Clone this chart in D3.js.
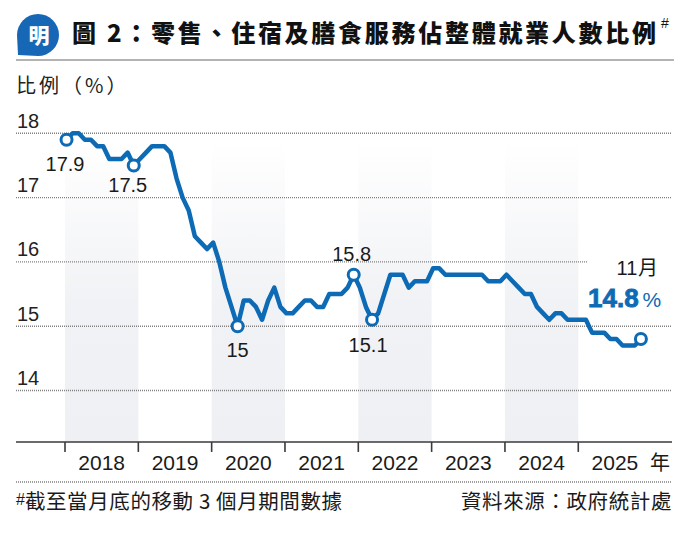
<!DOCTYPE html>
<html>
<head>
<meta charset="utf-8">
<script src="https://cdn.jsdelivr.net/npm/d3@7"></script>
<style>
	body { margin: 0; background: #fff; }
	svg { display: block; }
</style>
</head>
<body>
<div id="chart"></div>
<script>
/* global d3 */

// ---- data ----
var years = ["2018", "2019", "2020", "2021", "2022", "2023", "2024", "2025"];

// monthly share (%), Jan 2018 - Nov 2025
var shareValues = [
	17.9, 18.0, 18.0, 17.9, 17.9, 17.8, 17.8, 17.6, 17.6, 17.6, 17.7, 17.5,
	17.6, 17.7, 17.8, 17.8, 17.8, 17.7, 17.3, 17.0, 16.8, 16.4, 16.3, 16.2,
	16.3, 16.0, 15.6, 15.3, 15.0, 15.4, 15.4, 15.3, 15.1, 15.4, 15.6, 15.3,
	15.2, 15.2, 15.3, 15.4, 15.4, 15.3, 15.3, 15.5, 15.5, 15.5, 15.6, 15.8,
	15.6, 15.3, 15.1, 15.2, 15.5, 15.8, 15.8, 15.8, 15.6, 15.7, 15.7, 15.7,
	15.9, 15.9, 15.8, 15.8, 15.8, 15.8, 15.8, 15.8, 15.8, 15.7, 15.7, 15.7,
	15.8, 15.7, 15.6, 15.5, 15.5, 15.3, 15.2, 15.1, 15.2, 15.2, 15.1, 15.1,
	15.1, 15.1, 14.9, 14.9, 14.9, 14.8, 14.8, 14.7, 14.7, 14.7, 14.8
];

var yTicks = [14, 15, 16, 17, 18];

// months that carry a circle marker
var markedMonths = [0, 11, 28, 47, 50, 94];
var markedLabels = ["17.9", "17.5", "15", "15.8", "15.1", ""];

var title = "圖 2：零售、住宿及膳食服務佔整體就業人數比例";
var footNote = "截至當月底的移動 3 個月期間數據";
var source = "資料來源：政府統計處";


// ---- setup ----
var W = 690, H = 533;
var BLUE = "#0d6ab4";
var CJK = "'Noto Sans CJK TC', 'Noto Sans CJK SC', sans-serif";
var LATIN = "'Liberation Sans', Arial, sans-serif";

var svg = d3.select("#chart")
  .append("svg")
	.attr("width", W)
	.attr("height", H);

var x = d3.scaleLinear().domain([0, 96]).range([65, 651.6]);
var y = d3.scaleLinear().domain([14, 18]).range([390.5, 133.3]);
var baseY = y(13.2);

// point of month i sits a quarter month into it
var px = function( i ){ return x(i + 0.25); };


//* BAND GRADIENT
var grad = svg.append("defs").append("linearGradient")
	.attr("id", "bandFade")
	.attr("x1", 0).attr("y1", 0).attr("x2", 0).attr("y2", 1);
grad.append("stop").attr("offset", "0%").attr("stop-color", "#fff");
grad.append("stop").attr("offset", "55%").attr("stop-color", "#f1f2f5");
grad.append("stop").attr("offset", "100%").attr("stop-color", "#eef0f3");

//* YEAR BANDS (every other year)
svg.selectAll("rect.band")
	.data(years.filter(function( d, i ){ return i % 2 === 0; }))
  .enter().append("rect")
	.attr("class", "band")
	.attr("x", function( d ){ return x(years.indexOf(d) * 12); })
	.attr("y", 140)
	.attr("width", x(12) - x(0))
	.attr("height", baseY - 140)
	.attr("fill", "url(#bandFade)");


//* TITLE
var logo = svg.append("g").attr("transform", "translate(38,35)");
logo.append("path")
	.attr("d", "M -21 0 A 21 21 0 1 1 0 21 L -20 20 Z")
	.attr("fill", "#1667b5");
logo.append("text")
	.attr("x", 1)
	.attr("y", 8)
	.attr("font-family", CJK)
	.attr("font-size", 21)
	.attr("font-weight", 900)
	.style("text-anchor", "middle")
	.style("fill", "#fff")
	.text("明");

svg.append("text")
	.attr("x", 72)
	.attr("y", 42)
	.attr("font-family", CJK)
	.attr("font-size", 24)
	.attr("font-weight", 900)
	.attr("textLength", 584)
	.attr("lengthAdjust", "spacing")
	.style("fill", "#111")
	.text(title);

svg.append("text")
	.attr("x", 661)
	.attr("y", 28)
	.attr("font-family", LATIN)
	.attr("font-size", 14)
	.style("fill", "#111")
	.text("#");

svg.append("line")
	.attr("x1", 16).attr("x2", 674)
	.attr("y1", 60).attr("y2", 60)
	.attr("stroke", "#9a9a9a")
	.attr("stroke-width", 1.5);

svg.append("text")
	.attr("x", 16)
	.attr("y", 93)
	.attr("font-family", CJK)
	.attr("font-size", 20)
	.attr("letter-spacing", 3)
	.style("fill", "#222")
	.text("比例（%）");


//* GRID + Y LABELS
svg.selectAll("line.grid")
	.data(yTicks)
  .enter().append("line")
	.attr("class", "grid")
	.attr("x1", 16)
	// 16 line stops short to leave room for the latest value
	.attr("x2", function( d ){ return d === 16 ? 588 : 672; })
	.attr("y1", function( d ){ return y(d); })
	.attr("y2", function( d ){ return y(d); })
	.attr("stroke", "#808080")
	.attr("stroke-width", 1.4)
	.attr("stroke-dasharray", "1,1");

svg.selectAll("text.ytick")
	.data(yTicks)
  .enter().append("text")
	.attr("class", "ytick")
	.attr("x", 17)
	.attr("y", function( d ){ return y(d) - 5.5; })
	.attr("font-family", LATIN)
	.attr("font-size", 20)
	.style("fill", "#222")
	.text(function( d ){ return d; });


//* X AXIS
svg.append("line")
	.attr("x1", 16).attr("x2", 672)
	.attr("y1", baseY).attr("y2", baseY)
	.attr("stroke", "#3a3a3a")
	.attr("stroke-width", 1.6);

svg.selectAll("line.xtick")
	.data(years)
  .enter().append("line")
	.attr("class", "xtick")
	.attr("x1", function( d, i ){ return x(i * 12); })
	.attr("x2", function( d, i ){ return x(i * 12); })
	.attr("y1", baseY)
	.attr("y2", baseY + 10)
	.attr("stroke", "#3a3a3a")
	.attr("stroke-width", 1.6);

svg.selectAll("text.year")
	.data(years)
  .enter().append("text")
	.attr("class", "year")
	.attr("x", function( d, i ){ return x(i * 12 + 6); })
	.attr("y", 470)
	.attr("font-family", LATIN)
	.attr("font-size", 21)
	.style("text-anchor", "middle")
	.style("fill", "#1a1a1a")
	.text(function( d ){ return d; });

svg.append("text")
	.attr("x", 660)
	.attr("y", 470)
	.attr("font-family", CJK)
	.attr("font-size", 20)
	.style("text-anchor", "middle")
	.style("fill", "#1a1a1a")
	.text("年");


//* LINE
var line = d3.line()
	.x(function( d, i ){ return px(i); })
	.y(function( d ){ return y(d); });

svg.append("path")
	.datum(shareValues)
	.attr("d", line)
	.attr("fill", "none")
	.attr("stroke", BLUE)
	.attr("stroke-width", 4.5)
	.attr("stroke-linejoin", "round")
	.attr("stroke-linecap", "round");

svg.selectAll("circle.mark")
	.data(markedMonths)
  .enter().append("circle")
	.attr("class", "mark")
	.attr("cx", function( d ){ return px(d); })
	.attr("cy", function( d ){ return y(shareValues[d]); })
	.attr("r", 5.5)
	.attr("fill", "#fff")
	.attr("stroke", BLUE)
	.attr("stroke-width", 3);

// label offsets from their marker (dx, dy to baseline)
var labelOffset = [[-1.5, 31], [-6, 27], [0, 31], [-2, -14], [-4, 32], [0, 0]];

svg.selectAll("text.mark")
	.data(markedMonths)
  .enter().append("text")
	.attr("class", "mark")
	.attr("x", function( d, i ){ return px(d) + labelOffset[i][0]; })
	.attr("y", function( d, i ){ return y(shareValues[d]) + labelOffset[i][1]; })
	.attr("font-family", LATIN)
	.attr("font-size", 20)
	.style("text-anchor", "middle")
	.style("fill", "#1a1a1a")
	.text(function( d, i ){ return markedLabels[i]; });


//* LATEST VALUE
var last = shareValues.length - 1;

svg.append("text")
	.attr("x", px(last) - 14)
	.attr("y", 275)
	.attr("font-family", LATIN)
	.attr("font-size", 20)
	.style("text-anchor", "middle")
	.style("fill", "#1a1a1a")
	.text("11");

svg.append("text")
	.attr("x", px(last) - 3)
	.attr("y", 275)
	.attr("font-family", CJK)
	.attr("font-size", 20)
	.style("fill", "#1a1a1a")
	.text("月");

var latest = svg.append("text")
	.attr("x", 588)
	.attr("y", 307)
	.style("fill", BLUE);
latest.append("tspan")
	.attr("font-family", LATIN)
	.attr("font-size", 26)
	.attr("font-weight", 700)
	.attr("stroke", BLUE)
	.attr("stroke-width", 0.8)
	.text(shareValues[last]);
latest.append("tspan")
	.attr("dx", 4)
	.attr("font-family", LATIN)
	.attr("font-size", 21)
	.text("%");


//* FOOTER
svg.append("line")
	.attr("x1", 16).attr("x2", 672)
	.attr("y1", 482).attr("y2", 482)
	.attr("stroke", "#808080")
	.attr("stroke-width", 1.4)
	.attr("stroke-dasharray", "1,1");

var note = svg.append("text")
	.attr("x", 16)
	.attr("y", 509)
	.style("fill", "#1a1a1a");
note.append("tspan")
	.attr("font-family", LATIN)
	.attr("font-size", 16)
	.attr("dy", -4)
	.text("#");
note.append("tspan")
	.attr("font-family", CJK)
	.attr("font-size", 20.5)
	.attr("dy", 4)
	.attr("letter-spacing", 0.6)
	.text(footNote);

svg.append("text")
	.attr("x", 672)
	.attr("y", 509)
	.attr("font-family", CJK)
	.attr("font-size", 20.5)
	.attr("letter-spacing", 0.6)
	.style("text-anchor", "end")
	.style("fill", "#1a1a1a")
	.text(source);
</script>
</body>
</html>
